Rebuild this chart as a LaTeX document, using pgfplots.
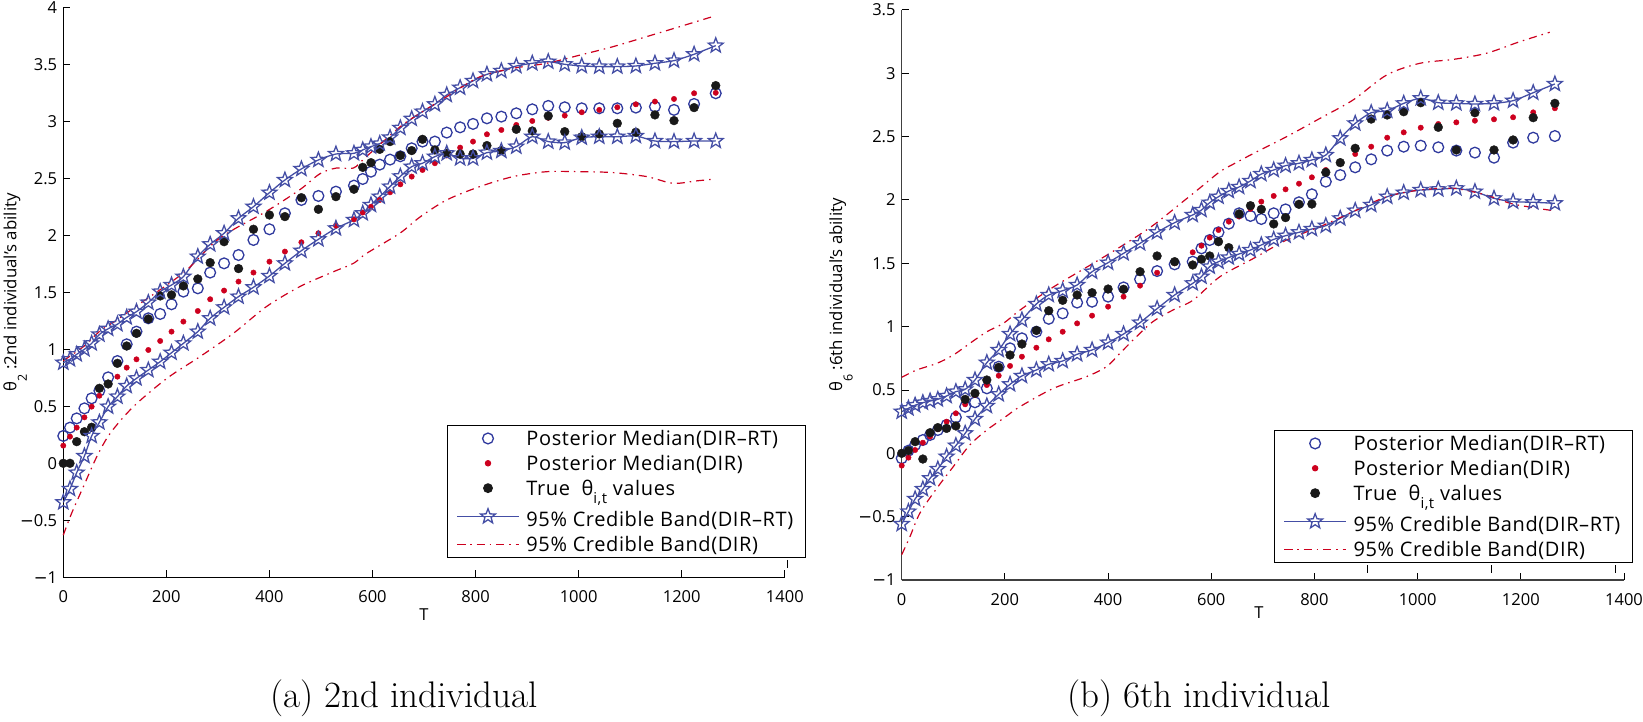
\documentclass[border=0pt]{standalone}
\usepackage{fontspec}
\usepackage{pgfplots}
\usepackage{pgfplotstable}
\pgfplotsset{compat=1.18}
\newfontfamily\osans{Open Sans}
\newfontfamily\legsans[LetterSpace=3]{Open Sans}
\newfontfamily\djv{DejaVu Sans}

\definecolor{medblue}{RGB}{48,58,158}
\definecolor{bandblue}{RGB}{68,78,165}
\definecolor{dirred}{RGB}{205,0,30}
\definecolor{truedark}{RGB}{25,25,25}

% outlined five-pointed star
\pgfdeclareplotmark{ostar}{%
  \pgfpathmoveto{\pgfpointpolar{90}{\pgfplotmarksize}}%
  \pgfpathlineto{\pgfpointpolar{126}{0.42\pgfplotmarksize}}%
  \pgfpathlineto{\pgfpointpolar{162}{\pgfplotmarksize}}%
  \pgfpathlineto{\pgfpointpolar{198}{0.42\pgfplotmarksize}}%
  \pgfpathlineto{\pgfpointpolar{234}{\pgfplotmarksize}}%
  \pgfpathlineto{\pgfpointpolar{270}{0.42\pgfplotmarksize}}%
  \pgfpathlineto{\pgfpointpolar{306}{\pgfplotmarksize}}%
  \pgfpathlineto{\pgfpointpolar{342}{0.42\pgfplotmarksize}}%
  \pgfpathlineto{\pgfpointpolar{18}{\pgfplotmarksize}}%
  \pgfpathlineto{\pgfpointpolar{54}{0.42\pgfplotmarksize}}%
  \pgfpathclose
  \pgfusepathqstroke
}

\newcommand{\mn}{{\djv −}}
\newcommand{\tickfont}{\osans\fontsize{16.5}{19}\selectfont}
\newcommand{\labfont}{\osans\fontsize{16.8}{19}\selectfont}
\newcommand{\legfont}{\legsans\fontsize{20}{23}\selectfont}
% lowered, smaller index as in the axis and legend labels
\newcommand{\ysub}[1]{\raisebox{-10.5pt}{\fontsize{12.5}{12.5}\selectfont #1}}
\newcommand{\lsub}[1]{\raisebox{-8pt}{\fontsize{15}{15}\selectfont #1}}

% individual 2: T, DIR-RT median, DIR median, true value, DIR-RT band (upper, lower)
\pgfplotstableread{
T med dir true up lo
0 0.240 0.155 0.000 0.883 -0.342
13 0.313 0.234 0.000 0.912 -0.225
26 0.394 0.313 0.190 0.956 -0.082
41 0.482 0.403 0.277 1.000 0.064
55 0.570 0.497 0.316 1.052 0.240
70 0.637 0.593 0.658 1.130 0.359
87 0.754 0.687 0.696 1.180 0.497
105 0.897 0.760 0.877 1.220 0.585
123 1.044 0.839 1.029 1.280 0.678
142 1.155 0.912 1.140 1.330 0.745
165 1.272 0.994 1.266 1.410 0.818
188 1.310 1.073 1.468 1.506 0.891
210 1.395 1.155 1.477 1.564 0.970
233 1.506 1.243 1.556 1.637 1.052
261 1.535 1.336 1.617 1.813 1.155
285 1.673 1.439 1.760 1.921 1.272
312 1.754 1.515 1.944 2.018 1.368
340 1.827 1.594 1.708 2.149 1.462
369 1.959 1.673 2.053 2.251 1.544
400 2.053 1.769 2.178 2.374 1.643
430 2.193 1.857 2.164 2.485 1.754
462 2.310 1.939 2.330 2.582 1.865
495 2.345 2.018 2.228 2.661 1.965
529 2.383 2.085 2.339 2.713 2.061
564 2.436 2.140 2.404 2.719 2.135
581 2.494 2.200 2.596 2.749 2.193
597 2.558 2.250 2.637 2.778 2.266
614 2.620 2.310 2.754 2.804 2.339
634 2.664 2.377 2.822 2.858 2.427
654 2.693 2.447 2.700 2.942 2.517
676 2.763 2.515 2.743 3.022 2.602
697 2.822 2.573 2.842 3.085 2.632
721 2.822 2.632 2.749 3.149 2.690
744 2.901 2.700 2.719 3.231 2.719
770 2.947 2.769 2.713 3.295 2.675
795 2.977 2.822 2.713 3.354 2.675
822 3.026 2.886 2.787 3.412 2.725
850 3.041 2.924 2.743 3.442 2.740
879 3.070 2.968 2.930 3.485 2.778
910 3.105 3.003 2.915 3.509 2.865
941 3.135 3.030 3.047 3.523 2.822
973 3.123 3.050 2.909 3.500 2.813
1006 3.114 3.079 2.865 3.485 2.857
1040 3.114 3.100 2.889 3.480 2.865
1075 3.114 3.123 2.982 3.480 2.865
1111 3.120 3.149 2.904 3.485 2.871
1148 3.129 3.173 3.056 3.509 2.827
1185 3.100 3.196 3.006 3.532 2.822
1224 3.152 3.246 3.120 3.588 2.827
1266 3.246 3.250 3.313 3.664 2.827
}\indtwo

% individual 2: DIR band
\pgfplotstableread{
T v
0 0.90
41 1.03
71 1.16
105 1.26
142 1.38
233 1.67
291 1.93
330 2.05
394 2.21
459 2.40
498 2.54
530 2.59
563 2.59
588 2.69
653 2.95
692 3.07
744 3.216
808 3.39
873 3.465
938 3.509
1002 3.58
1067 3.655
1132 3.743
1196 3.83
1264 3.924
}\indtwoDU
\pgfplotstableread{
T v
0 -0.63
16 -0.44
39 -0.205
65 0.058
91 0.263
136 0.497
201 0.745
265 0.935
330 1.14
394 1.374
459 1.55
524 1.68
563 1.754
588 1.84
653 2.018
692 2.16
744 2.31
808 2.427
873 2.515
938 2.558
1002 2.558
1067 2.55
1132 2.515
1183 2.456
1228 2.477
1257 2.49
}\indtwoDL

% individual 6
\pgfplotstableread{
T med dir true up lo
0 -0.039 -0.097 0.000 0.329 -0.558
13 0.021 -0.034 0.021 0.355 -0.460
26 0.066 0.026 0.092 0.380 -0.360
41 0.105 0.084 -0.045 0.400 -0.282
55 0.145 0.132 0.163 0.413 -0.197
70 0.184 0.190 0.203 0.426 -0.124
87 0.224 0.250 0.197 0.453 -0.026
105 0.284 0.316 0.216 0.487 0.061
123 0.368 0.387 0.426 0.505 0.158
142 0.403 0.460 0.474 0.579 0.271
165 0.513 0.539 0.579 0.716 0.374
188 0.684 0.613 0.679 0.816 0.466
210 0.829 0.690 0.776 0.942 0.545
233 0.908 0.763 0.863 1.053 0.611
261 0.960 0.834 0.970 1.179 0.658
285 1.062 0.900 1.126 1.250 0.703
312 1.105 0.960 1.208 1.284 0.729
340 1.190 1.026 1.250 1.329 0.782
369 1.197 1.087 1.268 1.434 0.816
400 1.237 1.158 1.297 1.505 0.874
430 1.310 1.237 1.295 1.579 0.942
462 1.374 1.324 1.434 1.658 1.032
495 1.439 1.426 1.558 1.745 1.142
529 1.492 1.500 1.513 1.821 1.250
564 1.513 1.587 1.487 1.882 1.342
581 1.618 1.639 1.532 1.921 1.395
597 1.684 1.703 1.558 1.979 1.474
614 1.745 1.763 1.671 2.026 1.513
634 1.813 1.829 1.624 2.071 1.546
654 1.895 1.870 1.890 2.103 1.574
676 1.874 1.930 1.955 2.150 1.605
697 1.850 1.987 1.926 2.205 1.645
721 1.895 2.032 1.811 2.237 1.689
744 1.926 2.084 1.861 2.271 1.718
770 1.982 2.129 1.966 2.290 1.745
795 2.045 2.179 1.968 2.316 1.771
822 2.145 2.237 2.218 2.355 1.797
850 2.197 2.290 2.295 2.487 1.855
879 2.258 2.363 2.408 2.605 1.916
910 2.321 2.421 2.639 2.689 1.961
941 2.390 2.492 2.671 2.705 2.026
973 2.421 2.534 2.697 2.763 2.058
1006 2.429 2.571 2.768 2.803 2.079
1040 2.416 2.600 2.574 2.768 2.084
1075 2.390 2.613 2.395 2.763 2.092
1111 2.374 2.626 2.689 2.758 2.066
1148 2.334 2.637 2.395 2.763 2.013
1185 2.453 2.653 2.474 2.784 1.987
1224 2.492 2.692 2.650 2.847 1.982
1266 2.505 2.724 2.763 2.916 1.974
}\indsix

\pgfplotstableread{
T v
0 0.60
29 0.658
68 0.71
100 0.776
132 0.868
165 0.96
197 1.026
229 1.13
290 1.303
355 1.461
419 1.618
484 1.79
549 2.0
581 2.105
617 2.224
646 2.29
682 2.368
746 2.5
811 2.645
875 2.79
940 2.987
1004 3.079
1069 3.11
1133 3.158
1198 3.25
1256 3.324
}\indsixDU
\pgfplotstableread{
T v
0 -0.80
16 -0.658
35 -0.474
68 -0.276
100 -0.105
132 0.066
165 0.184
197 0.276
229 0.368
294 0.513
358 0.605
397 0.684
423 0.79
455 0.921
487 1.04
526 1.132
565 1.21
617 1.395
682 1.539
746 1.684
811 1.79
875 1.908
940 2.026
1004 2.079
1069 2.092
1133 2.039
1185 1.968
1262 1.916
}\indsixDL

\pgfplotsset{
  legimg/.style={legend image code/.code={%
    \draw[mark repeat=2,mark phase=2,##1] plot coordinates {(0pt,0pt) (31pt,0pt) (62pt,0pt)};}},
  medstyle/.style={only marks, mark=o, mark size=5.4pt, color=medblue, line width=1.3pt, legimg},
  dirstyle/.style={only marks, mark=*, mark size=2.7pt, color=dirred, legimg},
  truestyle/.style={only marks, mark=*, mark size=4.4pt, color=truedark, legimg},
  rtband/.style={color=bandblue, line width=1.3pt, smooth, tension=0.45, mark=ostar, mark size=7.8pt, mark options={solid, line width=1.3pt}, legimg},
  dirband/.style={color=dirred, line width=1.2pt, smooth, tension=0.5, dash pattern=on 8pt off 5pt on 1.5pt off 5pt, legimg},
  panel/.style={
    scale only axis, anchor=south west,
    width=721.5pt, height=570pt,
    xmin=0, xmax=1400,
    axis x line*=bottom, axis y line*=left,
    axis line style={-, line width=1.2pt},
    tick align=inside, major tick length=7pt,
    every tick/.style={line width=1pt, black},
    xtick={0,200,...,1400},
    xticklabels={0,200,400,600,800,1000,1200,1400},
    tick label style={font=\tickfont},
    xticklabel style={inner sep=0pt, anchor=north, yshift=-13pt},
    yticklabel style={inner sep=0pt, anchor=east, xshift=-6pt},
    xlabel style={font=\tickfont},
    ylabel style={font=\labfont},
    clip=false,
    legend style={draw=black, line width=1pt, font=\legfont,
      inner xsep=9pt, inner ysep=2pt, row sep=2.5pt, column sep=4pt,
      nodes={inner sep=2.8pt}},
    legend cell align=left,
  },
}

\begin{document}
\begin{tikzpicture}
\useasboundingbox (0pt,0pt) rectangle (1643pt,721pt);

% ---------- (a) 2nd individual ----------
\begin{axis}[panel,
  at={(63.3pt,143.7pt)},
  ymin=-1, ymax=4,
  ytick={-1,-0.5,...,4},
  yticklabels={\mn1,\mn0.5,0,0.5,1,1.5,2,2.5,3,3.5,4},
  xlabel={T},
  xlabel style={at={(axis description cs:0.5,-0.054)}, anchor=north, inner sep=0pt},
  ylabel={θ\ysub{2} :2nd individual’s ability},
  ylabel style={at={(axis description cs:-0.0503,0.5)}, anchor=south, inner sep=0pt},
  legend style={at={(axis description cs:0.5316,0.0333)}, anchor=south west},
]
\addplot[medstyle] table[x=T, y=med] {\indtwo};
\addlegendentry{Posterior Median(DIR–RT)}
\addplot[dirstyle] table[x=T, y=dir] {\indtwo};
\addlegendentry{Posterior Median(DIR)}
\addplot[truestyle] table[x=T, y=true] {\indtwo};
\addlegendentry{True\ \ θ\lsub{i,t} values}
\addplot[rtband] table[x=T, y=up] {\indtwo};
\addlegendentry{\rule{0pt}{22pt}95\% Credible Band(DIR–RT)}
\addplot[dirband] table[x=T, y=v] {\indtwoDU};
\addlegendentry{95\% Credible Band(DIR)}
\addplot[rtband, forget plot] table[x=T, y=lo] {\indtwo};
\addplot[dirband, forget plot] table[x=T, y=v] {\indtwoDL};
\draw[line width=0.9pt] (axis cs:1406,-0.848) -- (axis cs:1406,-0.921);
\end{axis}

% ---------- (b) 6th individual ----------
\begin{axis}[panel,
  at={(901.7pt,141pt)},
  width=722.3pt,
  ymin=-1, ymax=3.5,
  axis line style={-, line width=1.2pt, black!75},
  ytick={-1,-0.5,...,3.5},
  yticklabels={\mn1,\mn0.5,0,0.5,1,1.5,2,2.5,3,3.5},
  xlabel={T},
  xlabel style={at={(axis description cs:0.4947,-0.047)}, anchor=north, inner sep=0pt},
  ylabel={θ\ysub{6} :6th individual’s ability},
  ylabel style={at={(axis description cs:-0.0674,0.5)}, anchor=south, inner sep=0pt},
  legend style={at={(axis description cs:0.5154,0.0293)}, anchor=south west},
]
\addplot[medstyle] table[x=T, y=med] {\indsix};
\addlegendentry{Posterior Median(DIR–RT)}
\addplot[dirstyle] table[x=T, y=dir] {\indsix};
\addlegendentry{Posterior Median(DIR)}
\addplot[truestyle] table[x=T, y=true] {\indsix};
\addlegendentry{True\ \ θ\lsub{i,t} values}
\addplot[rtband] table[x=T, y=up] {\indsix};
\addlegendentry{\rule{0pt}{22pt}95\% Credible Band(DIR–RT)}
\addplot[dirband] table[x=T, y=v] {\indsixDU};
\addlegendentry{95\% Credible Band(DIR)}
\addplot[rtband, forget plot] table[x=T, y=lo] {\indsix};
\addplot[dirband, forget plot] table[x=T, y=v] {\indsixDL};
\draw[line width=0.9pt] (axis cs:903,-0.882) -- (axis cs:903,-0.943);
\draw[line width=0.9pt] (axis cs:1143,-0.882) -- (axis cs:1143,-0.943);
\draw[line width=0.9pt] (axis cs:1384,-0.882) -- (axis cs:1384,-0.943);
\end{axis}

\node[anchor=base, font=\fontsize{37}{40}\selectfont] at (404pt,14pt) {(a) 2nd individual};
\node[anchor=base, font=\fontsize{37}{40}\selectfont] at (1199pt,14pt) {(b) 6th individual};
\end{tikzpicture}
\end{document}
